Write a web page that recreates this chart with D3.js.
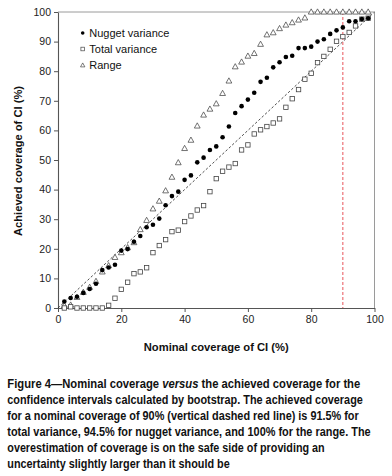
<!DOCTYPE html>
<html>
<head>
<meta charset="utf-8">
<script src="https://cdn.jsdelivr.net/npm/d3@7"></script>
<style>
  html, body { margin: 0; padding: 0; background: #fff; }
  svg { display: block; }
</style>
</head>
<body>
<script>
// ---------- data ----------
const nominal = [2,4,6,8,10,12,14,16,18,20,22,24,26,28,30,32,34,36,38,40,42,44,46,48,50,52,54,56,58,60,62,64,66,68,70,72,74,76,78,80,82,84,86,88,90,92,94,96,98];
const nuggetVariance = [2.2,3.4,3.8,5.1,6.4,8.2,12.8,13.7,14.6,19.4,19.9,22.4,24.3,27.3,28.1,30.2,34.7,37.8,39.3,43.3,44.8,49.2,50.8,53.4,54.6,57.7,61.3,65.9,68.2,70.4,72.7,76.4,77.8,81.3,83.0,84.8,85.2,87.8,87.8,88.3,90.0,90.8,92.6,93.8,94.8,96.9,96.9,97.6,97.9];
const totalVariance = [0,0.4,0,0,0,0,0,0.9,3.3,6.3,8.7,11.6,12.2,13.6,18.7,21.1,23.1,25.8,26.3,29.2,31.1,33.1,34.6,39.3,43.7,46.2,47.6,48.8,53.4,55.1,58.8,60.2,61.3,62.5,63.9,67.8,70.7,73.8,77.3,79.3,82.9,85.0,87.4,90.1,91.7,93.1,95.3,97.6,97.9];
const range = [0.8,1,3.6,5.3,7,9,12.2,14.3,17.1,18.7,20.4,22.1,26.5,29.6,33.5,36.1,39.6,44.2,49.1,53.9,56.7,61.5,65.2,67.2,69.0,72.5,76.7,81.5,83.1,85.1,86.0,89.1,92.3,93.0,94.4,95.6,96.4,97.3,98.0,100,100,100,100,100,100,100,100,100,100];
const seriesNames = ["Nugget variance", "Total variance", "Range"];
const xTicks = [0,20,40,60,80,100];
const yTicks = [0,10,20,30,40,50,60,70,80,90,100];
const diagonal = [0,100];
const nominalTarget = 90;
const xTitle = "Nominal coverage of CI (%)";
const yTitle = "Achieved coverage of CI (%)";
const captionLines = [
  [["Figure 4\u2014Nominal coverage ", false], ["versus", true], [" the achieved coverage for the", false]],
  [["confidence intervals calculated by bootstrap. The achieved coverage", false]],
  [["for a nominal coverage of 90% (vertical dashed red line) is 91.5% for", false]],
  [["total variance, 94.5% for nugget variance, and 100% for the range. The", false]],
  [["overestimation of coverage is on the safe side of providing an", false]],
  [["uncertainty slightly larger than it should be", false]]
];
const captionWidths = [353.5, 356, 352, 363.5, 317.5, 222.5];

(function () {
// ---------- layout ----------
const W = 392, H = 476;
const pL = 58, pR = 374.5, pT = 12, pB = 308;

const svg = d3.select("body").append("svg").attr("width", W).attr("height", H);
const x = d3.scaleLinear().domain([0,100]).range([pL, pR]);
const y = d3.scaleLinear().domain([0,100]).range([pB, pT]);

// frame (top, right)
svg.append("path")
  .attr("d", `M${pL},${pT}H${pR}V${pB}`)
  .attr("fill", "none").attr("stroke", "#9a9a9a").attr("stroke-width", 1);

// axes
const fontAxis = "'Liberation Sans', Arial, sans-serif";
const gx = svg.append("g").attr("transform", `translate(0,${pB})`)
  .call(d3.axisBottom(x).tickValues(xTicks).tickSize(4).tickSizeOuter(0).tickPadding(4));
const gy = svg.append("g").attr("transform", `translate(${pL},0)`)
  .call(d3.axisLeft(y).tickValues(yTicks).tickSize(4).tickSizeOuter(0).tickPadding(3));
[gx, gy].forEach(g => {
  g.selectAll("path.domain").attr("stroke", "#555").attr("stroke-width", 1.1);
  g.selectAll(".tick line").attr("stroke", "#555").attr("stroke-width", 1);
  g.selectAll(".tick text").attr("fill", "#222").style("font-family", fontAxis).style("font-size", "10.5px");
});

// diagonal 1:1 line
svg.append("line")
  .attr("x1", x(diagonal[0])).attr("y1", y(diagonal[0]))
  .attr("x2", x(diagonal[1])).attr("y2", y(diagonal[1]))
  .attr("stroke", "#222").attr("stroke-width", 0.8).attr("stroke-dasharray", "2.5,2");

// vertical red dashed line at 90
svg.append("line")
  .attr("x1", x(nominalTarget)).attr("x2", x(nominalTarget))
  .attr("y1", y(100)).attr("y2", y(0))
  .attr("stroke", "#e8555a").attr("stroke-width", 1).attr("stroke-dasharray", "3,2");

// markers
const triPath = (cx, cy, s) => {
  const h = s * 0.9;
  return `M${cx},${cy - h*0.6}L${cx + s/2},${cy + h*0.4}L${cx - s/2},${cy + h*0.4}Z`;
};
function drawSquare(g, cx, cy) {
  g.append("rect").attr("x", cx - 2.2).attr("y", cy - 2.2).attr("width", 4.4).attr("height", 4.4)
    .attr("fill", "#fff").attr("stroke", "#444").attr("stroke-width", 0.8);
}
function drawTri(g, cx, cy) {
  g.append("path").attr("d", triPath(cx, cy, 5.8))
    .attr("fill", "#fff").attr("stroke", "#444").attr("stroke-width", 0.75);
}
function drawDot(g, cx, cy) {
  g.append("circle").attr("cx", cx).attr("cy", cy).attr("r", 2.3).attr("fill", "#000");
}

const gT = svg.append("g");
range.forEach((v, i) => drawTri(gT, x(nominal[i]), y(v)));
const gS = svg.append("g");
totalVariance.forEach((v, i) => drawSquare(gS, x(nominal[i]), y(v)));
const gN = svg.append("g");
nuggetVariance.forEach((v, i) => drawDot(gN, x(nominal[i]), y(v)));

// legend
const lg = svg.append("g");
const legY = [33, 49, 65];
seriesNames.forEach((name, i) => {
  const m = lg.append("g");
  if (i === 0) m.append("circle").attr("cx", 82.7).attr("cy", legY[i]).attr("r", 1.8).attr("fill", "#000");
  else if (i === 1) m.append("rect").attr("x", 80.9).attr("y", legY[i] - 1.8).attr("width", 3.6).attr("height", 3.6)
      .attr("fill", "#fff").attr("stroke", "#444").attr("stroke-width", 0.7);
  else m.append("path").attr("d", triPath(82.7, legY[i] + 0.3, 4.4)).attr("fill", "#fff").attr("stroke", "#444").attr("stroke-width", 0.7);
  lg.append("text").attr("x", 89.3).attr("y", legY[i] + 3.8)
    .style("font-family", fontAxis).style("font-size", "11px").attr("fill", "#111").text(name);
});

// axis titles
svg.append("text").attr("x", (pL + pR) / 2).attr("y", 350.5).attr("text-anchor", "middle")
  .style("font-family", fontAxis).style("font-size", "11px").style("font-weight", "bold")
  .attr("textLength", 145).attr("lengthAdjust", "spacingAndGlyphs").attr("fill", "#111").text(xTitle);
svg.append("text").attr("transform", `translate(21.5,${(pT + pB) / 2 + 1}) rotate(-90)`).attr("text-anchor", "middle")
  .style("font-family", fontAxis).style("font-size", "11px").style("font-weight", "bold")
  .attr("textLength", 150).attr("lengthAdjust", "spacingAndGlyphs").attr("fill", "#111").text(yTitle);

// caption: each line horizontally condensed to the reference width
const capBase = [388, 404, 420, 436, 452, 468];
captionLines.forEach((parts, i) => {
  const g = svg.append("g");
  const t = g.append("text").attr("x", 0).attr("y", 0)
    .style("font-family", "'Liberation Sans', Arial, sans-serif")
    .style("font-size", "13px").style("font-weight", "bold").attr("fill", "#111");
  parts.forEach(([s, it]) => {
    t.append("tspan").style("font-style", it ? "italic" : "normal").text(s);
  });
  const natural = t.node().getComputedTextLength();
  const sx = captionWidths[i] / natural;
  g.attr("transform", `translate(7.3,${capBase[i]}) scale(${sx},1)`);
});
})();
</script>
</body>
</html>
